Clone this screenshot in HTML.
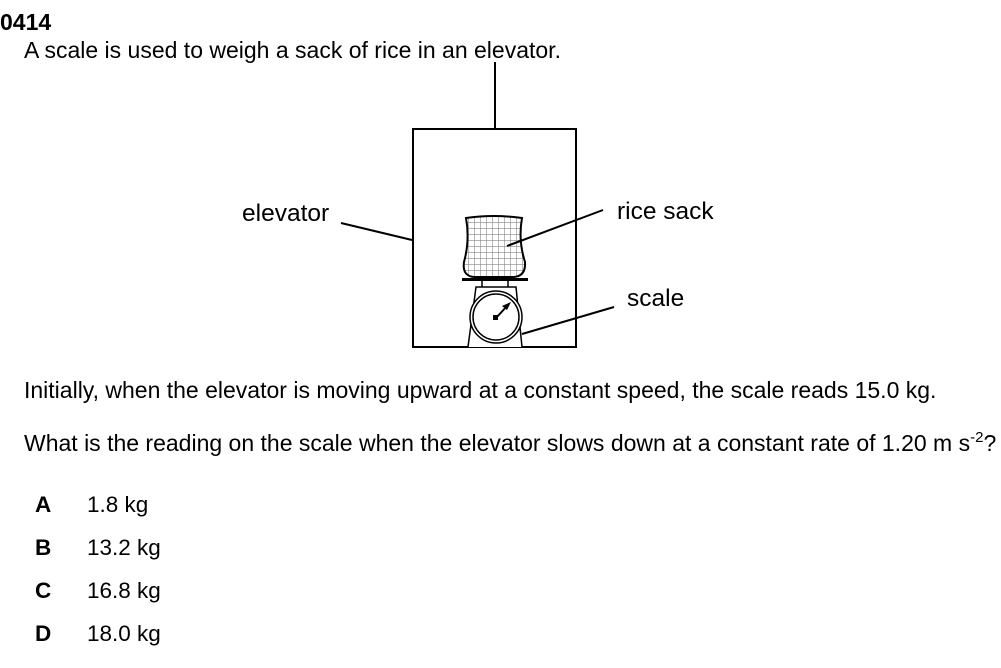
<!DOCTYPE html>
<html><head><style>
body{margin:0;background:#fff}
svg{display:block}
text{font-family:"Liberation Sans",Arial,sans-serif;font-size:23px;fill:#000}
.l{font-size:24.5px}
.o{font-size:22.5px}
</style></head><body>
<svg width="1001" height="668" viewBox="0 0 1001 668" xmlns="http://www.w3.org/2000/svg">
<defs>
<pattern id="g" width="6" height="6" patternUnits="userSpaceOnUse">
<rect width="6" height="6" fill="#fff"/>
<path d="M0 0H6M0 0V6" stroke="#888" stroke-width="1.2"/>
</pattern>
</defs>
<text x="0" y="30" font-weight="bold">0414</text>
<text x="24" y="58">A scale is used to weigh a sack of rice in an elevator.</text>
<line x1="495" y1="62" x2="495" y2="129" stroke="#000" stroke-width="2"/>
<rect x="413" y="129" width="163" height="218" fill="none" stroke="#000" stroke-width="2"/>
<path d="M466 218 Q494 214 522 218 Q518 240 525 262 Q526 276 514 277 L474 277 Q462 276 464 262 Q470 240 466 218 Z" fill="url(#g)" stroke="#000" stroke-width="2"/>
<rect x="462" y="278" width="66" height="3" fill="#000"/>
<line x1="482" y1="281" x2="482" y2="287" stroke="#000" stroke-width="1.5"/>
<line x1="508" y1="281" x2="508" y2="287" stroke="#000" stroke-width="1.5"/>
<path d="M468 347 L476 287 L516 287 L522 347" fill="#fff" stroke="#000" stroke-width="1.5"/>
<circle cx="496" cy="317" r="26" fill="#fff" stroke="#000" stroke-width="1.5"/>
<circle cx="496" cy="317" r="23" fill="none" stroke="#000" stroke-width="1.5"/>
<line x1="496" y1="318" x2="508" y2="305" stroke="#000" stroke-width="2"/>
<polygon points="511,302 502,306 507,310" fill="#000"/>
<rect x="493" y="315" width="5" height="5" fill="#000"/>
<line x1="341" y1="223" x2="412" y2="240" stroke="#000" stroke-width="2"/>
<line x1="603" y1="210" x2="507" y2="246" stroke="#000" stroke-width="2"/>
<line x1="614" y1="307" x2="522" y2="334" stroke="#000" stroke-width="2"/>
<text class="l" x="242" y="221">elevator</text>
<text class="l" x="617" y="219">rice sack</text>
<text class="l" x="627" y="306">scale</text>
<text x="24" y="398">Initially, when the elevator is moving upward at a constant speed, the scale reads 15.0 kg.</text>
<text x="24" y="451">What is the reading on the scale when the elevator slows down at a constant rate of 1.20 m s<tspan font-size="15" dy="-9">-2</tspan><tspan dy="9">?</tspan></text>
<text class="o" x="35" y="512" font-weight="bold">A</text><text class="o" x="87" y="512">1.8 kg</text>
<text class="o" x="35" y="555" font-weight="bold">B</text><text class="o" x="87" y="555">13.2 kg</text>
<text class="o" x="35" y="598" font-weight="bold">C</text><text class="o" x="87" y="598">16.8 kg</text>
<text class="o" x="35" y="641" font-weight="bold">D</text><text class="o" x="87" y="641">18.0 kg</text>
</svg>
</body></html>
